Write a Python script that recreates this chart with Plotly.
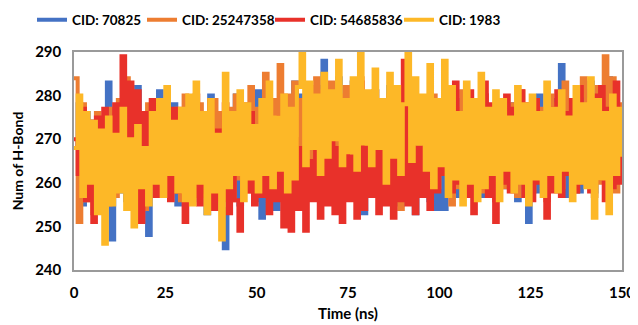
import plotly.graph_objects as go

time_ns = list(range(0, 151))

cid_70825 = [
    268, 278, 255, 276, 260, 274, 257, 270, 262, 283, 247,
    272, 258, 279, 256, 275, 260, 282, 255, 270, 248,
    276, 259, 281, 257, 274, 261, 278, 255, 272, 258,
    279, 256, 277, 260, 275, 253, 280, 258, 271, 254,
    245, 276, 257, 280, 255, 274, 259, 278, 256, 281,
    252, 277, 258, 275, 254, 279, 262, 276, 257, 283,
    259, 280, 263, 278, 260, 282, 262, 288, 264, 281,
    262, 284, 263, 279, 260, 283, 258, 280, 253, 276,
    261, 281, 259, 277, 257, 282, 260, 276, 255, 279,
    258, 280, 253, 277, 260, 279, 256, 275, 254, 278,
    254, 276, 259, 279, 257, 274, 261, 278, 258, 275,
    257, 280, 260, 277, 256, 279, 259, 274, 262, 278,
    256, 276, 260, 251, 277, 258, 280, 262, 276, 259,
    279, 261, 287, 257, 278, 260, 275, 258, 281, 263,
    283, 258, 277, 261, 279, 284, 259, 276, 262, 270,
]

cid_25247358 = [
    284, 251, 278, 256, 274, 253, 276, 258, 272, 255, 277,
    257, 279, 260, 284, 256, 280, 258, 275, 254, 278,
    259, 276, 257, 279, 261, 274, 258, 277, 256, 280,
    259, 276, 261, 278, 257, 275, 260, 279, 258, 276,
    259, 277, 256, 280, 261, 278, 258, 282, 260, 277,
    262, 285, 260, 279, 263, 287, 261, 280, 258, 283,
    263, 279, 260, 282, 262, 284, 264, 281, 261, 283,
    263, 280, 259, 282, 262, 279, 258, 284, 260, 278,
    257, 281, 260, 277, 258, 280, 256, 276, 254, 279,
    260, 281, 258, 278, 261, 276, 257, 280, 259, 275,
    262, 279, 255, 277, 259, 281, 257, 276, 260, 278,
    258, 280, 261, 277, 256, 279, 259, 275, 262, 278,
    257, 281, 260, 276, 258, 279, 262, 277, 256, 280,
    261, 278, 259, 283, 262, 277, 258, 280, 284, 261,
    279, 257, 282, 260, 289, 263, 284, 258, 278, 262,
]

cid_54685836 = [
    270, 262, 277, 256, 274, 251, 275, 254, 277, 259, 270,
    278, 260, 289, 262, 283, 258, 281, 251, 276, 260,
    279, 257, 275, 259, 272, 256, 277, 258, 273, 251,
    276, 257, 280, 255, 274, 258, 279, 254, 272, 256,
    278, 253, 275, 256, 249, 273, 258, 276, 255, 272,
    257, 272, 253, 268, 256, 275, 250, 266, 249, 270,
    254, 268, 249, 265, 256, 271, 252, 267, 255, 273,
    253, 268, 251, 270, 256, 266, 252, 283, 254, 268,
    257, 272, 253, 269, 255, 274, 252, 266, 256, 288,
    255, 270, 253, 268, 257, 272, 254, 267, 258, 271,
    262, 280, 258, 283, 260, 276, 257, 281, 253, 275,
    259, 283, 257, 278, 251, 276, 260, 280, 258, 277,
    262, 281, 257, 278, 256, 279, 260, 276, 252, 277,
    258, 281, 257, 276, 262, 279, 258, 282, 260, 275,
    258, 280, 261, 282, 256, 277, 259, 283, 260, 268,
]

cid_1983 = [
    268, 280, 257, 276, 260, 274, 253, 272, 246, 275, 255,
    271, 258, 277, 254, 270, 250, 273, 259, 268, 255,
    276, 260, 279, 257, 282, 262, 274, 258, 277, 256,
    280, 255, 283, 260, 276, 253, 279, 258, 271, 247,
    285, 259, 276, 262, 281, 256, 278, 261, 273, 258,
    279, 262, 283, 259, 275, 263, 280, 258, 277, 261,
    282, 290, 264, 283, 268, 280, 262, 285, 266, 281,
    270, 288, 264, 279, 267, 284, 263, 290, 269, 281,
    264, 286, 268, 279, 260, 285, 266, 282, 262, 278,
    290, 265, 284, 269, 280, 263, 287, 259, 279, 264,
    288, 257, 282, 261, 276, 255, 283, 260, 279, 256,
    285, 259, 277, 262, 281, 256, 279, 263, 275, 258,
    282, 260, 278, 255, 280, 261, 276, 257, 283, 262,
    277, 258, 281, 263, 275, 256, 282, 260, 278, 259,
    284, 252, 279, 261, 276, 253, 280, 262, 277, 266,
]

series_names = ["CID: 70825", "CID: 25247358", "CID: 54685836", "CID: 1983"]
series_values = [cid_70825, cid_25247358, cid_54685836, cid_1983]
series_colors = ["#4472C4", "#ED7D31", "#E8312A", "#FDB827"]

x_ticks = [0, 25, 50, 75, 100, 125, 150]
y_ticks = [240, 250, 260, 270, 280, 290]

FONT = "Lato"
W, H = 630, 317
legend_left_px = [24, 134, 262, 391]

fig = go.Figure()
for i, (name, vals, col) in enumerate(zip(series_names, series_values, series_colors)):
    lg = "legend" if i == 0 else f"legend{i+1}"
    fig.add_trace(go.Scatter(x=time_ns, y=vals, mode="lines", name=name, legend=lg,
                             line=dict(color=col, width=4, shape="hv")))

layout_legends = {}
for i, px in enumerate(legend_left_px):
    key = "legend" if i == 0 else f"legend{i+1}"
    layout_legends[key] = dict(
        orientation="h", xref="container", yref="container",
        x=px / W, xanchor="left", y=1 - 12 / H, yanchor="middle",
        font=dict(family=FONT, size=13.5, color="black", weight="bold"),
        itemwidth=30, bgcolor="rgba(0,0,0,0)", borderwidth=0)

fig.update_layout(
    width=W, height=H,
    margin=dict(l=66, r=16, t=44, b=55),
    paper_bgcolor="white", plot_bgcolor="white",
    font=dict(family=FONT, size=15, color="black", weight="bold"),
    showlegend=True,
    **layout_legends,
)
fig.update_xaxes(range=[0, 150], tickvals=x_ticks, ticks="", showgrid=False, zeroline=False,
                 showline=True, linecolor="#9a9a9a", linewidth=1.5, mirror=True, automargin=False,
                 ticklabelstandoff=8,
                 title=dict(text="Time (ns)", font=dict(family=FONT, size=15, weight="bold"), standoff=9),
                 tickfont=dict(family=FONT, size=15, weight="bold"))
fig.update_yaxes(range=[240, 290], tickvals=y_ticks, ticks="", showgrid=False, zeroline=False,
                 showline=True, linecolor="#9a9a9a", linewidth=1.5, mirror=True, automargin=False,
                 ticklabelstandoff=8,
                 title=dict(text="Num of H-Bond", font=dict(family=FONT, size=14, weight="bold"), standoff=8),
                 tickfont=dict(family=FONT, size=15, weight="bold"))

fig.write_html("out.html")
